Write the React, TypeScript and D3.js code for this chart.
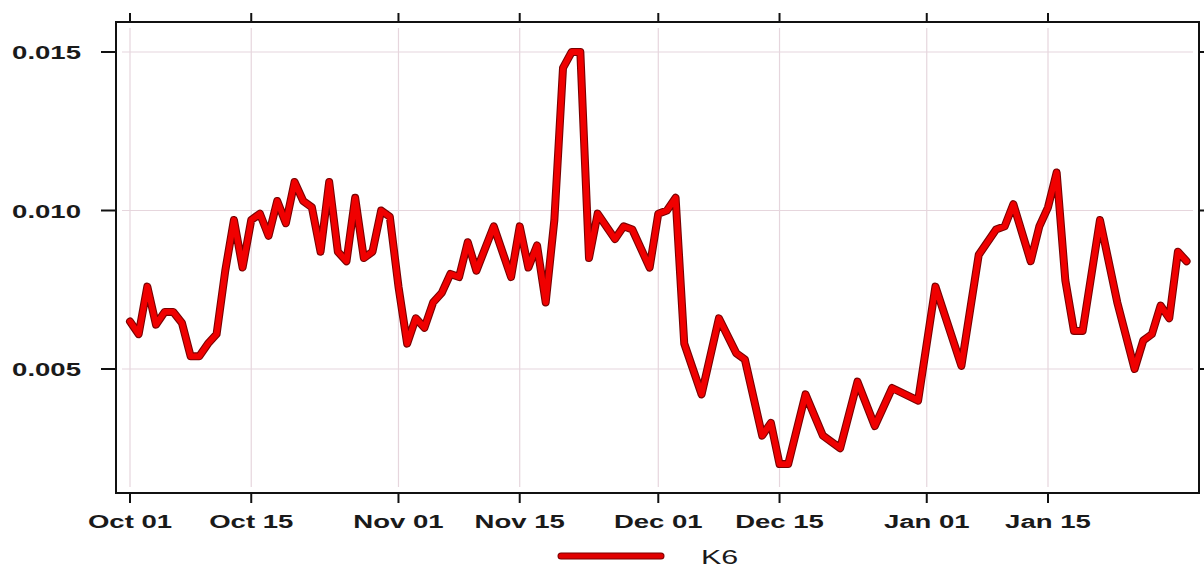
import React from "react";
import * as d3 from "d3";

// K6 series: observation dates and values
const dates: string[] = [
  "2013-10-01", "2013-10-02", "2013-10-03", "2013-10-04", "2013-10-05", "2013-10-06", "2013-10-07",
  "2013-10-08", "2013-10-09", "2013-10-10", "2013-10-11", "2013-10-12", "2013-10-13", "2013-10-14",
  "2013-10-15", "2013-10-16", "2013-10-17", "2013-10-18", "2013-10-19", "2013-10-20", "2013-10-21",
  "2013-10-22", "2013-10-23", "2013-10-24", "2013-10-25", "2013-10-26", "2013-10-27", "2013-10-28",
  "2013-10-29", "2013-10-30", "2013-10-31", "2013-11-01", "2013-11-02", "2013-11-03", "2013-11-04",
  "2013-11-05", "2013-11-06", "2013-11-07", "2013-11-08", "2013-11-09", "2013-11-10", "2013-11-12",
  "2013-11-14", "2013-11-15", "2013-11-16", "2013-11-17", "2013-11-18", "2013-11-19", "2013-11-20",
  "2013-11-21", "2013-11-22", "2013-11-23", "2013-11-24", "2013-11-26", "2013-11-27", "2013-11-28",
  "2013-11-30", "2013-12-01", "2013-12-02", "2013-12-03", "2013-12-04", "2013-12-06", "2013-12-08",
  "2013-12-10", "2013-12-11", "2013-12-13", "2013-12-14", "2013-12-15", "2013-12-16", "2013-12-18",
  "2013-12-20", "2013-12-22", "2013-12-24", "2013-12-26", "2013-12-28", "2013-12-31", "2014-01-02",
  "2014-01-05", "2014-01-07", "2014-01-09", "2014-01-10", "2014-01-11", "2014-01-13", "2014-01-14",
  "2014-01-15", "2014-01-16", "2014-01-17", "2014-01-18", "2014-01-19", "2014-01-21", "2014-01-23",
  "2014-01-25", "2014-01-26", "2014-01-27", "2014-01-28", "2014-01-29", "2014-01-30", "2014-01-31",
];

const k6: number[] = [
  0.0065, 0.0061, 0.0076, 0.0064, 0.0068, 0.0068, 0.00645,
  0.0054, 0.0054, 0.0058, 0.0061, 0.0081, 0.0097, 0.0082,
  0.0097, 0.0099, 0.0092, 0.0103, 0.0096, 0.0109, 0.0103,
  0.0101, 0.0087, 0.0109, 0.0087, 0.0084, 0.0104, 0.0085,
  0.0087, 0.0100, 0.0098, 0.0076, 0.0058, 0.0066, 0.0063,
  0.0071, 0.0074, 0.0080, 0.0079, 0.0090, 0.0081, 0.0095,
  0.0079, 0.0095, 0.0082, 0.0089, 0.0071, 0.0097, 0.0145,
  0.0150, 0.0150, 0.0085, 0.0099, 0.0091, 0.0095, 0.0094,
  0.0082, 0.0099, 0.0100, 0.0104, 0.0058, 0.0042, 0.0066,
  0.0055, 0.0053, 0.0029, 0.0033, 0.0020, 0.0020, 0.0042,
  0.0029, 0.0025, 0.0046, 0.0032, 0.0044, 0.0040, 0.0076,
  0.0051, 0.0086, 0.0094, 0.0095, 0.0102, 0.0084, 0.0095,
  0.0101, 0.0112, 0.0078, 0.0062, 0.0062, 0.0097, 0.0071,
  0.0050, 0.0059, 0.0061, 0.0070, 0.0066, 0.0087, 0.0084,
];

const xTickDates: string[] = [
  "2013-10-01", "2013-10-15", "2013-11-01", "2013-11-15",
  "2013-12-01", "2013-12-15", "2014-01-01", "2014-01-15",
];
const xTickLabels: string[] = [
  "Oct 01", "Oct 15", "Nov 01", "Nov 15", "Dec 01", "Dec 15", "Jan 01", "Jan 15",
];
const yTicks: number[] = [0.005, 0.01, 0.015];
const seriesName = "K6";

const W = 1204;
const H = 569;
const box = { left: 116, right: 1199, top: 22, bottom: 493 };
const inset = 6;

const parse = d3.utcParse("%Y-%m-%d");

export default function App() {
  const x = d3
    .scaleUtc()
    .domain([parse("2013-10-01")!, parse("2014-01-15")!])
    .range([130, 1048]);
  const y = d3.scaleLinear().domain([0.005, 0.015]).range([369, 52]);

  const points = dates.map((d, i) => [parse(d)!, k6[i]] as [Date, number]);
  const line = d3
    .line<[Date, number]>()
    .x((p) => x(p[0]))
    .y((p) => y(p[1]));
  const pathD = line(points) || "";

  const fmt = d3.format(".3f");
  const font = "'Liberation Sans', Arial, sans-serif";
  const textColor = "#1a1a1a";
  const gridColor = "#e6d6dd";

  return (
    <svg
      width={W}
      height={H}
      style={{ position: "absolute", left: 0, top: 0, display: "block", background: "#fff" }}
    >
      {/* grid */}
      <g stroke={gridColor} strokeWidth={1.2}>
        {xTickDates.map((d) => {
          const xx = x(parse(d)!);
          return (
            <line key={"gx" + d} x1={xx} x2={xx} y1={box.top + inset} y2={box.bottom - inset} />
          );
        })}
        {yTicks.map((t) => (
          <line key={"gy" + t} x1={box.left + inset} x2={box.right - inset} y1={y(t)} y2={y(t)} />
        ))}
      </g>

      {/* series */}
      <path
        d={pathD}
        fill="none"
        stroke="#7a0000"
        strokeWidth={8}
        strokeLinejoin="round"
        strokeLinecap="round"
      />
      <path
        d={pathD}
        fill="none"
        stroke="#f00000"
        strokeWidth={5.8}
        strokeLinejoin="round"
        strokeLinecap="round"
      />

      {/* frame */}
      <rect
        x={box.left}
        y={box.top}
        width={box.right - box.left}
        height={box.bottom - box.top}
        fill="none"
        stroke="#111"
        strokeWidth={2}
      />

      {/* ticks on all four sides */}
      <g stroke="#111" strokeWidth={2}>
        {xTickDates.map((d) => {
          const xx = x(parse(d)!);
          return (
            <g key={"t" + d}>
              <line x1={xx} x2={xx} y1={box.bottom} y2={box.bottom + 10} />
              <line x1={xx} x2={xx} y1={box.top} y2={box.top - 9} />
            </g>
          );
        })}
        {yTicks.map((t) => (
          <g key={"ty" + t}>
            <line x1={box.left - 15} x2={box.left} y1={y(t)} y2={y(t)} />
            <line x1={box.right} x2={box.right + 10} y1={y(t)} y2={y(t)} />
          </g>
        ))}
      </g>

      {/* tick labels */}
      <g fontFamily={font} fontWeight="bold" fontSize={19} fill={textColor}>
        {xTickDates.map((d, i) => (
          <text
            key={"lx" + d}
            transform={`translate(${x(parse(d)!)},${528}) scale(1.45,1)`}
            textAnchor="middle"
          >
            {xTickLabels[i]}
          </text>
        ))}
        {yTicks.map((t) => (
          <text
            key={"ly" + t}
            transform={`translate(81,${y(t) + 7}) scale(1.45,1)`}
            textAnchor="end"
          >
            {fmt(t)}
          </text>
        ))}
      </g>

      {/* legend */}
      <g>
        <line x1={561} x2={661} y1={556} y2={556} stroke="#7a0000" strokeWidth={7} strokeLinecap="round" />
        <line x1={561} x2={661} y1={556} y2={556} stroke="#e00000" strokeWidth={5} strokeLinecap="round" />
        <text
          transform={`translate(701,564) scale(1.52,1)`}
          fontFamily={font}
          fontSize={20}
          fill={textColor}
        >
          {seriesName}
        </text>
      </g>
    </svg>
  );
}
